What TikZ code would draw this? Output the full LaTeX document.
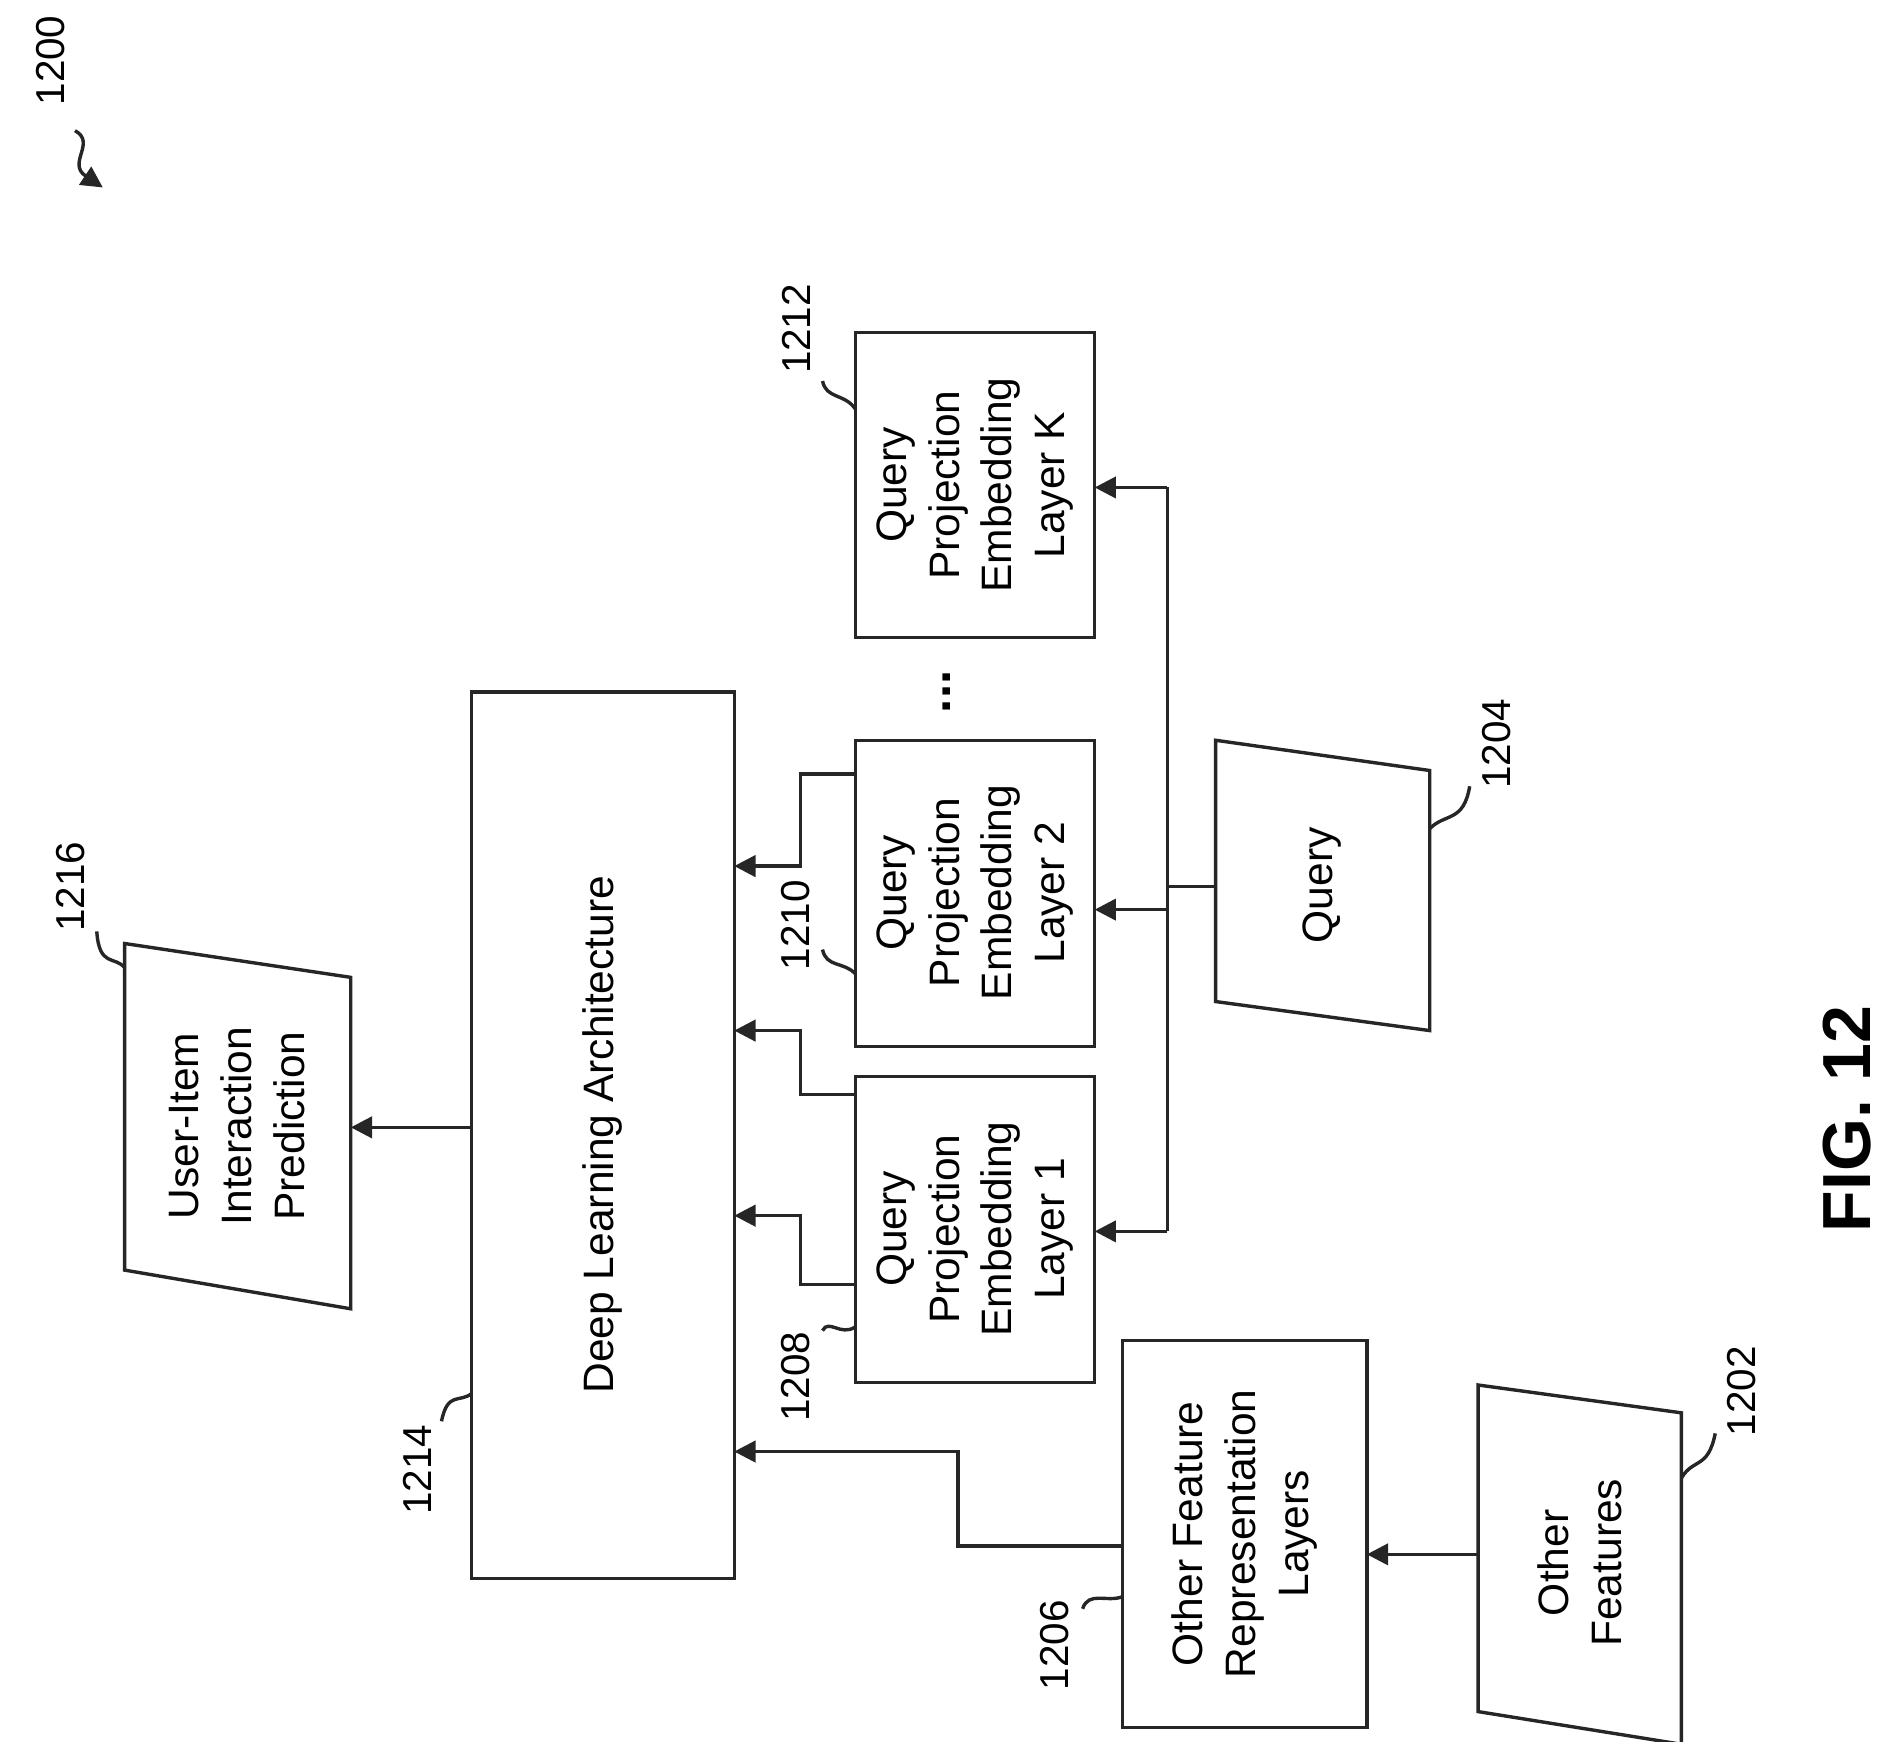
\documentclass[tikz,border=0pt]{standalone}
\usepackage{fontspec}
\setmainfont{Liberation Sans}
\usetikzlibrary{arrows.meta}
\begin{document}
\begin{tikzpicture}[x=0.01cm,y=-0.01cm,
  ln/.style={line width=0.8pt,draw=black!85},
  arr/.style={ln,-{Triangle[length=5pt,width=5pt]}},
  txt/.style={rotate=90,align=center,font=\fontsize{10}{12.4}\selectfont},
  lab/.style={rotate=90,font=\fontsize{9.5}{11}\selectfont}]
\useasboundingbox (0,0) rectangle (1560,1440);
% boxes
\draw[ln] (103,780) -- (290,808) -- (290,1082) -- (103,1050) -- cycle;
\node[txt] (uip) at (196,931) {User-Item\\Interaction\\Prediction};
\draw[ln] (390,572) rectangle (607,1305);
\node[txt] (dl) at (498,938) {Deep Learning Architecture};
\draw[ln] (707,890) rectangle (905,1143);
\node[txt] (q1) at (806,1016) {Query\\Projection\\Embedding\\Layer 1};
\draw[ln] (707,612) rectangle (905,865);
\node[txt] (q2) at (806,738) {Query\\Projection\\Embedding\\Layer 2};
\draw[ln] (707,275) rectangle (905,527);
\node[txt] (qk) at (806,401) {Query\\Projection\\Embedding\\Layer K};
\node[txt,font=\fontsize{12}{12}\selectfont\bfseries] (dots) at (783,572) {...};
\draw[ln] (1005,612) -- (1182,637) -- (1182,852) -- (1005,828) -- cycle;
\node[txt] (qry) at (1093,732) {Query};
\draw[ln] (928,1108) rectangle (1130,1428);
\node[txt] (ofr) at (1029,1268) {Other Feature\\Representation\\Layers};
\draw[ln] (1222,1145) -- (1390,1168) -- (1390,1442) -- (1222,1415) -- cycle;
\node[txt] (of) at (1306,1292) {Other\\Features};
\node[rotate=90,font=\fontsize{16}{16}\selectfont\bfseries] (fig) at (1527,925) {FIG. 12};
% connectors
\draw[arr] (390,932) -- (290,932);
\draw[arr] (1222,1285) -- (1130,1285);
\draw[arr] (928,1278) -- (792,1278) -- (792,1200) -- (607,1200);
\draw[arr] (707,1062) -- (662,1062) -- (662,1005) -- (607,1005);
\draw[arr] (707,905) -- (662,905) -- (662,852) -- (607,852);
\draw[arr] (707,640) -- (662,640) -- (662,716) -- (607,716);
\draw[ln] (1005,733) -- (965,733);
\draw[ln] (965,403) -- (965,1018);
\draw[arr] (965,403) -- (905,403);
\draw[arr] (965,752) -- (905,752);
\draw[arr] (965,1018) -- (905,1018);
% labels
\node[lab] (l1200) at (42,50) {1200};
\draw[arr] (62,108) .. controls (80,118) and (55,135) .. (85,155);
\node[lab] (l1216) at (58,733) {1216};
\draw[ln] (80,770) .. controls (82,800) and (95,790) .. (103,800);
\node[lab] (l1214) at (345,1215) {1214};
\draw[ln] (365,1175) .. controls (370,1150) and (380,1160) .. (390,1152);
\node[lab] (l1208) at (658,1138) {1208};
\draw[ln] (680,1100) .. controls (685,1090) and (695,1105) .. (707,1097);
\node[lab] (l1210) at (658,765) {1210};
\draw[ln] (680,785) .. controls (683,800) and (698,795) .. (707,805);
\node[lab] (l1212) at (658,272) {1212};
\draw[ln] (680,315) .. controls (683,330) and (698,325) .. (707,338);
\node[lab] (l1204) at (1237,615) {1204};
\draw[ln] (1215,650) .. controls (1210,680) and (1195,672) .. (1182,685);
\node[lab] (l1206) at (872,1360) {1206};
\draw[ln] (895,1330) .. controls (900,1315) and (915,1325) .. (928,1320);
\node[lab] (l1202) at (1440,1150) {1202};
\draw[ln] (1418,1185) .. controls (1412,1215) and (1400,1205) .. (1390,1222);
\end{tikzpicture}
\end{document}
